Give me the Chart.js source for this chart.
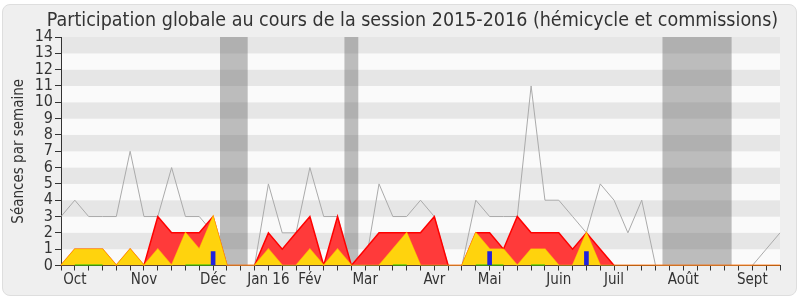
<!DOCTYPE html>
<html>
<head>
<meta charset="utf-8">
<script src="https://cdn.jsdelivr.net/npm/chart.js@4.4.0/dist/chart.umd.min.js"></script>
<style>
  html, body { margin: 0; padding: 0; background: #fff; }
  #wrap { position: relative; width: 800px; height: 300px; }
  #panel { position: absolute; left: 2px; top: 4px; width: 793px; height: 290px;
           background: #efefef; border: 1px solid #dedede; border-radius: 8px; }
  canvas { position: absolute; left: 0; top: 0; }
</style>
</head>
<body>
<div id="wrap">
  <div id="panel"></div>
  <canvas id="participationChart" width="800" height="300"></canvas>
</div>
<script>
// one entry per week, from the start of October 2015
const weekLabels = [
  "", "Oct", "", "", "", "", "Nov", "", "", "", "", "Déc", "", "", "",
  "Jan 16", "", "", "Fév", "", "", "", "Mar", "", "", "", "", "Avr", "", "", "",
  "Mai", "", "", "", "", "Juin", "", "", "", "Juil", "", "", "", "",
  "Août", "", "", "", "", "Sept", "", ""
];
const medianWeek = [
  3, 4, 3, 3, 3, 7, 3, 3, 6, 3, 3, 2, 0, 0, 0, 5, 2, 2, 6, 3, 3, 0, 0, 5, 3, 3, 4,
  3, 0, 0, 4, 3, 3, 3, 11, 4, 4, 3, 2, 5, 4, 2, 4, 0, 0, 0, 0, 0, 0, 0, 0, 1, 2
];
const presenceWeek = [
  0, 1, 1, 1, 0, 1, 0, 3, 2, 2, 2, 3, 0, 0, 0, 2, 1, 2, 3, 0, 3, 0, 1, 2, 2, 2, 2,
  3, 0, 0, 2, 2, 1, 3, 2, 2, 2, 1, 2, 1, 0, 0, 0, 0, 0, 0, 0, 0, 0, 0, 0, 0, 0
];
const commissionWeek = [
  0, 1, 1, 1, 0, 1, 0, 1, 0, 2, 1, 3, 0, 0, 0, 1, 0, 0, 1, 0, 1, 0, 0, 0, 1, 2, 0,
  0, 0, 0, 2, 1, 1, 0, 1, 1, 0, 0, 2, 0, 0, 0, 0, 0, 0, 0, 0, 0, 0, 0, 0, 0, 0
];
const questionWeek = [
  null, 0, 0, 0, null, null, null, null, null, 0, 0, 0, null, null, null, null, null, null,
  null, null, null, null, null, null, 0, 0, null, null, null, null, 0, 0, 0, null, 0, 0,
  null, null, null, null, null, null, null, null, null, null, null, null, null, null, null, null, null
];
const interventionWeek = [
  null, null, null, null, null, null, null, null, null, null, null, 0.85, null, null, null,
  null, null, null, null, null, null, null, null, null, null, null, null, null, null, null,
  null, 0.85, null, null, null, null, null, null, 0.85, null, null, null, null, null, null,
  null, null, null, null, null, null, null, null
];
// parliamentary breaks, in week units
const recessStart = [11.5, 20.5, 43.5];
const recessEnd = [13.5, 21.5, 48.5];

const fontFamily = "'DejaVu Sans Condensed', 'DejaVu Sans', sans-serif";

const backgroundPlugin = {
  id: "background",
  beforeDraw(chart) {
    const { ctx, chartArea } = chart;
    const x = chart.scales.x;
    const y = chart.scales.y;
    ctx.save();
    for (let v = 0; v < 14; v++) {
      const top = y.getPixelForValue(v + 1);
      const bottom = y.getPixelForValue(v);
      ctx.fillStyle = v % 2 === 0 ? "#fafafa" : "#e6e6e6";
      ctx.fillRect(chartArea.left, top, chartArea.right - chartArea.left, bottom - top);
    }
    ctx.fillStyle = "rgba(95, 95, 95, 0.4)";
    for (let i = 0; i < recessStart.length; i++) {
      const left = x.getPixelForValue(recessStart[i]);
      const right = x.getPixelForValue(recessEnd[i]);
      ctx.fillRect(left, chartArea.top, right - left, chartArea.bottom - chartArea.top);
    }
    ctx.restore();
  },
  afterLayout(chart) {
    if (chart.titleBlock) {
      chart.titleBlock.left = 25;
      chart.titleBlock.right = 800;
    }
  },
};

new Chart(document.getElementById("participationChart"), {
  type: "line",
  data: {
    labels: weekLabels,
    datasets: [
      {
        data: medianWeek,
        borderColor: "#aaaaaa",
        borderWidth: 1,
        pointRadius: 0,
        fill: false,
        order: 5,
      },
      {
        data: presenceWeek,
        borderColor: "#ff0000",
        backgroundColor: "#ff3a3a",
        borderWidth: 1.5,
        pointRadius: 0,
        fill: "origin",
        order: 4,
      },
      {
        data: commissionWeek,
        borderColor: "rgba(255, 225, 0, 0.7)",
        backgroundColor: "#ffd30d",
        borderWidth: 1.5,
        pointRadius: 0,
        fill: "origin",
        order: 3,
      },
      {
        data: questionWeek,
        borderColor: "#22cc00",
        borderWidth: 2,
        pointRadius: 0,
        fill: false,
        spanGaps: false,
        order: 2,
      },
      {
        type: "bar",
        data: interventionWeek,
        backgroundColor: "#2222dd",
        barThickness: 4,
        order: 1,
      },
    ],
  },
  options: {
    responsive: false,
    animation: false,
    elements: { line: { tension: 0 } },
    layout: { padding: { left: 4, right: 20, top: 0, bottom: 0 } },
    plugins: {
      legend: { display: false },
      tooltip: { enabled: false },
      title: {
        display: true,
        text: "Participation globale au cours de la session 2015-2016 (hémicycle et commissions)",
        color: "#333",
        font: { family: fontFamily, size: 19.5, weight: "normal" },
        padding: { top: 9, bottom: 4.6 },
      },
    },
    scales: {
      x: {
        offset: false,
        grid: { offset: false, drawOnChartArea: false, tickLength: 5, tickColor: "#333" },
        border: { color: "#333" },
        ticks: {
          autoSkip: false,
          maxRotation: 0,
          padding: 1,
          color: "#333",
          font: { family: fontFamily, size: 15 },
        },
        afterFit(scale) { scale.height = 34.5; },
      },
      y: {
        min: 0,
        max: 14,
        grid: { drawOnChartArea: false, tickLength: 6, tickColor: "#333" },
        border: { color: "#333" },
        ticks: {
          stepSize: 1,
          autoSkip: false,
          padding: 2,
          color: "#333",
          font: { family: fontFamily, size: 16 },
        },
        title: {
          display: true,
          text: "Séances par semaine",
          color: "#333",
          padding: { top: 6, bottom: 0 },
          font: { family: fontFamily, size: 15 },
        },
        afterFit(scale) { scale.width = 57; },
      },
    },
  },
  plugins: [backgroundPlugin],
});
</script>
</body>
</html>
